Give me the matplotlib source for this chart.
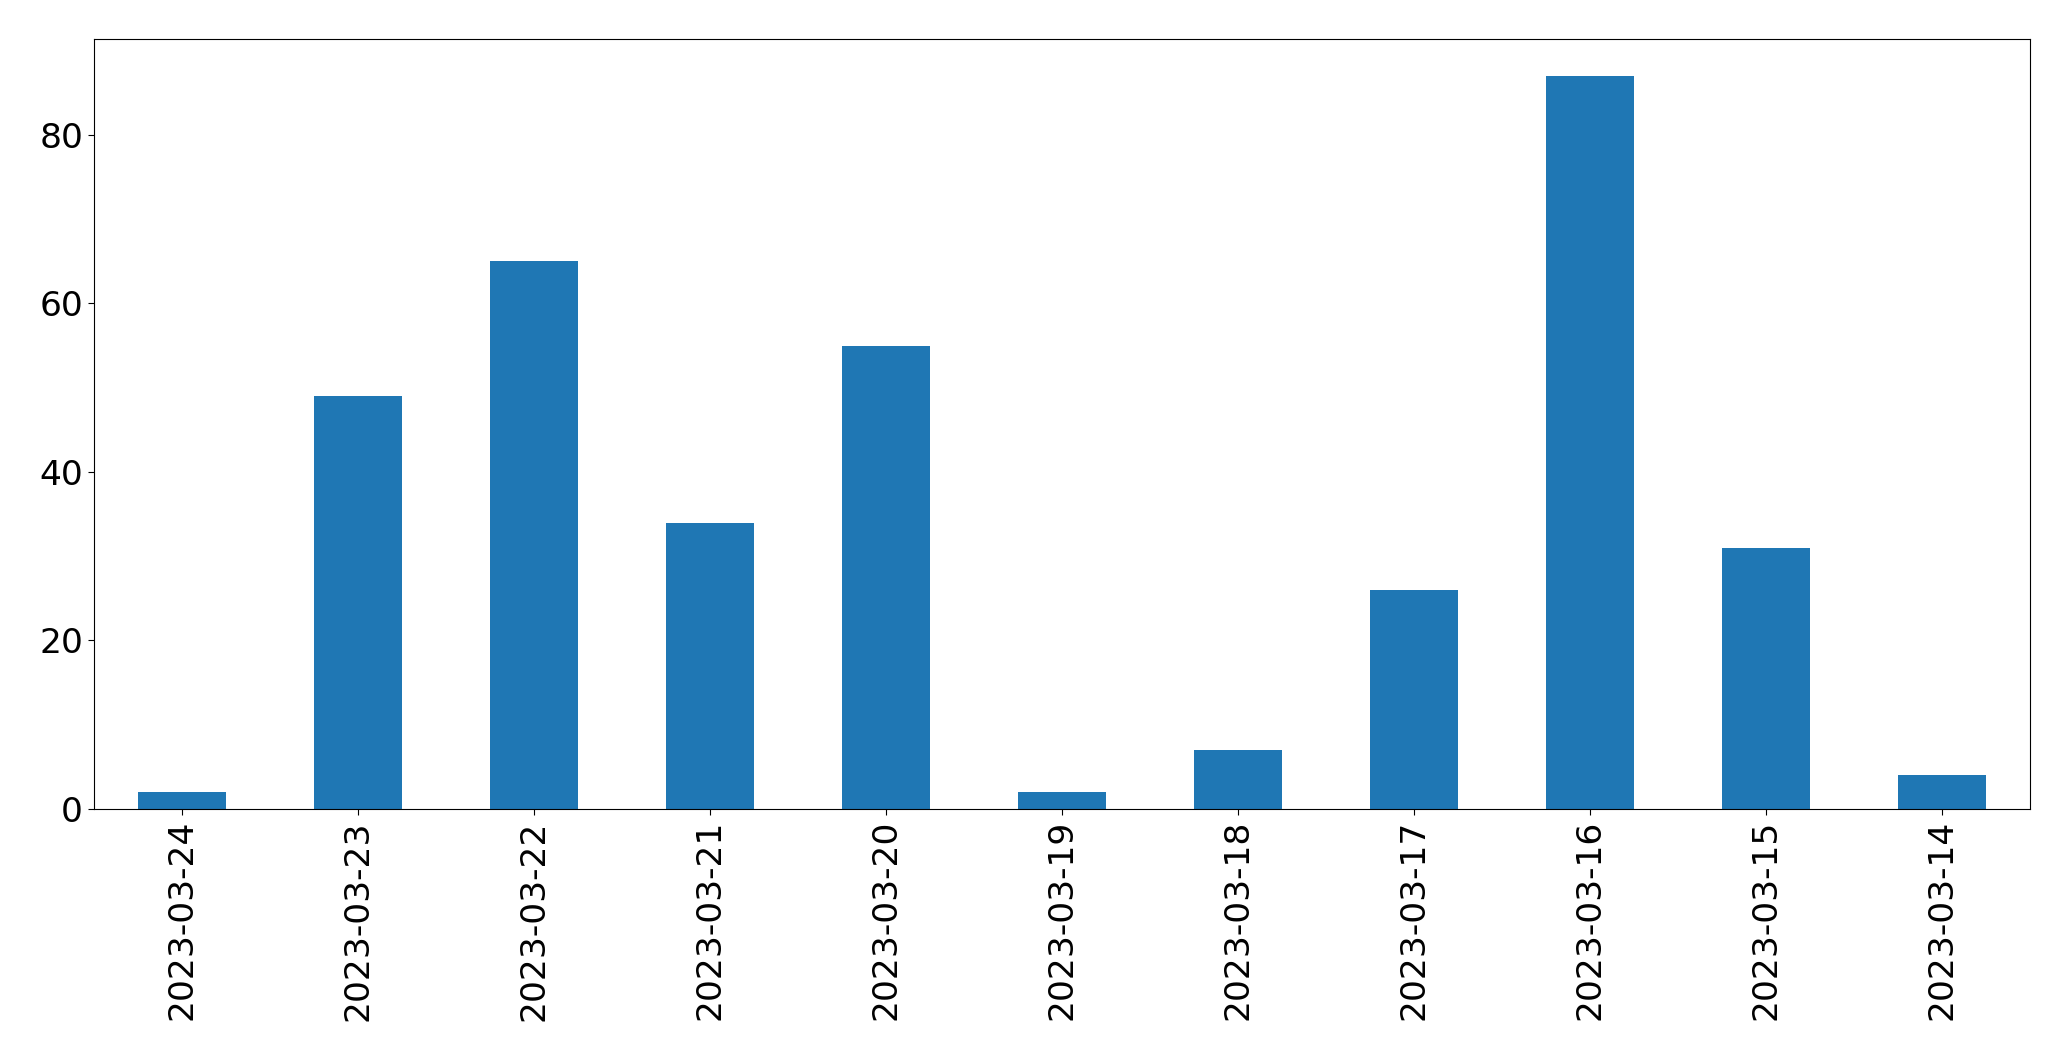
import matplotlib
matplotlib.use("Agg")
import matplotlib.pyplot as plt

dates = ["2023-03-24", "2023-03-23", "2023-03-22", "2023-03-21", "2023-03-20",
         "2023-03-19", "2023-03-18", "2023-03-17", "2023-03-16", "2023-03-15",
         "2023-03-14"]
counts = [2, 49, 65, 34, 55, 2, 7, 26, 87, 31, 4]

fig = plt.figure(figsize=(20.71, 10.61), dpi=100)
ax = fig.add_axes([0.0455, 0.2375, 0.9347, 0.7255])
x = list(range(len(dates)))
ax.bar(x, counts, width=0.5, color="#1f77b4")
ax.set_xlim(-0.5, len(dates) - 0.5)
ax.set_ylim(0, max(counts) * 1.05)
ax.set_xticks(x)
ax.set_xticklabels(dates, rotation=90)
ax.tick_params(axis="both", labelsize=24.8, length=4.5)
fig.savefig("out.png", dpi=100)
